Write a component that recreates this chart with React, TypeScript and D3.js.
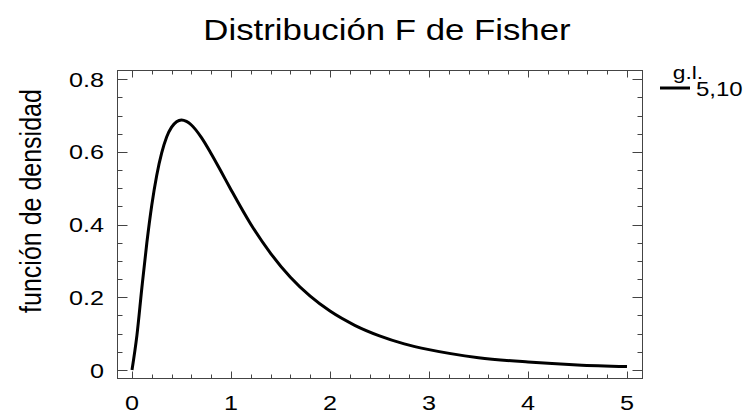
import React, { useEffect, useRef } from "react";
import * as d3 from "d3";

// Chart values (F density, 5 and 10 degrees of freedom)
const xValues = [0, 0.05, 0.1, 0.15, 0.2, 0.25, 0.3, 0.35, 0.4, 0.45, 0.5, 0.55, 0.6, 0.7, 0.8, 0.9, 1.0, 1.2, 1.4, 1.6, 1.8, 2.0, 2.25, 2.5, 2.75, 3.0, 3.5, 4.0, 4.5, 5.0];
const densityValues = [0, 0.096, 0.227, 0.35, 0.454, 0.536, 0.597, 0.641, 0.668, 0.683, 0.688, 0.684, 0.674, 0.64, 0.595, 0.546, 0.496, 0.401, 0.321, 0.255, 0.203, 0.162, 0.123, 0.094, 0.072, 0.056, 0.034, 0.022, 0.014, 0.0096];
const xTicks = [0, 1, 2, 3, 4, 5];
const yTicks = [0, 0.2, 0.4, 0.6, 0.8];
const xMinorTicks = d3.range(0, 5.001, 0.2);
const yMinorTicks = d3.range(0, 0.801, 0.05);

const title = "Distribución F de Fisher";
const yAxisTitle = "función de densidad";
const legendTitle = "g.l.";
const seriesName = "5,10";

// Frame of the plot area
const frame = { left: 117, right: 642, top: 70, bottom: 378 };
const font = "'Liberation Sans', Arial, sans-serif";
const stretch = 1.2; // the picture's text is wider than normal Arial
const axisColor = "#444";

function App() {
  const chartElement = useRef<SVGSVGElement | null>(null);

  useEffect(() => {
    const svg = d3.select(chartElement.current).html("");

    const xScale = d3.scaleLinear().domain([0, 5]).range([frame.left + 15, frame.right - 15]);
    const yScale = d3.scaleLinear().domain([0, 0.8]).range([frame.bottom - 8, 79.2]);

    // frame
    svg.append("rect")
      .attr("x", frame.left + 0.5)
      .attr("y", frame.top + 0.5)
      .attr("width", frame.right - frame.left)
      .attr("height", frame.bottom - frame.top)
      .attr("fill", "none")
      .attr("stroke", axisColor)
      .attr("stroke-width", 1);

    const ticks = svg.append("g").attr("stroke", axisColor).attr("stroke-width", 1);

    // x ticks, bottom and top, pointing inward
    xMinorTicks.forEach((v) => {
      const major = xTicks.some((t) => Math.abs(t - v) < 1e-6);
      const len = major ? 7 : 4;
      const x = Math.round(xScale(v)) + 0.5;
      ticks.append("line").attr("x1", x).attr("x2", x)
        .attr("y1", frame.bottom + 0.5).attr("y2", frame.bottom + 0.5 - len);
      ticks.append("line").attr("x1", x).attr("x2", x)
        .attr("y1", frame.top + 0.5).attr("y2", frame.top + 0.5 + len);
    });

    // y ticks, left and right
    yMinorTicks.forEach((v) => {
      const major = yTicks.some((t) => Math.abs(t - v) < 1e-6);
      const len = major ? 10 : 5;
      const y = Math.round(yScale(v)) + 0.5;
      ticks.append("line").attr("y1", y).attr("y2", y)
        .attr("x1", frame.left + 0.5).attr("x2", frame.left + 0.5 + len);
      ticks.append("line").attr("y1", y).attr("y2", y)
        .attr("x1", frame.right + 0.5).attr("x2", frame.right + 0.5 - len);
    });

    const addText = (x: number, y: number, text: string, size: number, anchor: string, rotate = 0) => {
      svg.append("text")
        .attr("transform", `translate(${x},${y}) scale(${stretch},1) rotate(${rotate})`)
        .attr("text-anchor", anchor)
        .attr("font-family", font)
        .attr("font-size", size)
        .attr("fill", "#000")
        .text(text);
    };

    // tick labels
    xTicks.forEach((v) => addText(xScale(v), 410, d3.format("d")(v), 21, "middle"));
    yTicks.forEach((v) => addText(104, yScale(v) + 7.5, v === 0 ? "0" : d3.format(".1f")(v), 21, "end"));

    // titles
    addText(387, 40, title, 29, "middle");
    addText(41, 201, yAxisTitle, 25, "middle", -90);

    // the density line
    const line = d3.line<number>()
      .x((_, i) => xScale(xValues[i]))
      .y((d) => yScale(d))
      .curve(d3.curveMonotoneX);

    svg.append("path")
      .datum(densityValues)
      .attr("fill", "none")
      .attr("stroke", "#000")
      .attr("stroke-width", 3)
      .attr("stroke-linejoin", "round")
      .attr("d", line);

    // legend
    addText(688, 79, legendTitle, 19, "middle");
    svg.append("line")
      .attr("x1", 660).attr("x2", 690)
      .attr("y1", 88).attr("y2", 88)
      .attr("stroke", "#000")
      .attr("stroke-width", 3);
    addText(696, 96, seriesName, 20, "start");
  }, []);

  return (
    <svg
      ref={chartElement}
      width={750}
      height={414}
      style={{ position: "absolute", left: 0, top: 0, background: "#fff" }}
    />
  );
}

export default App;
